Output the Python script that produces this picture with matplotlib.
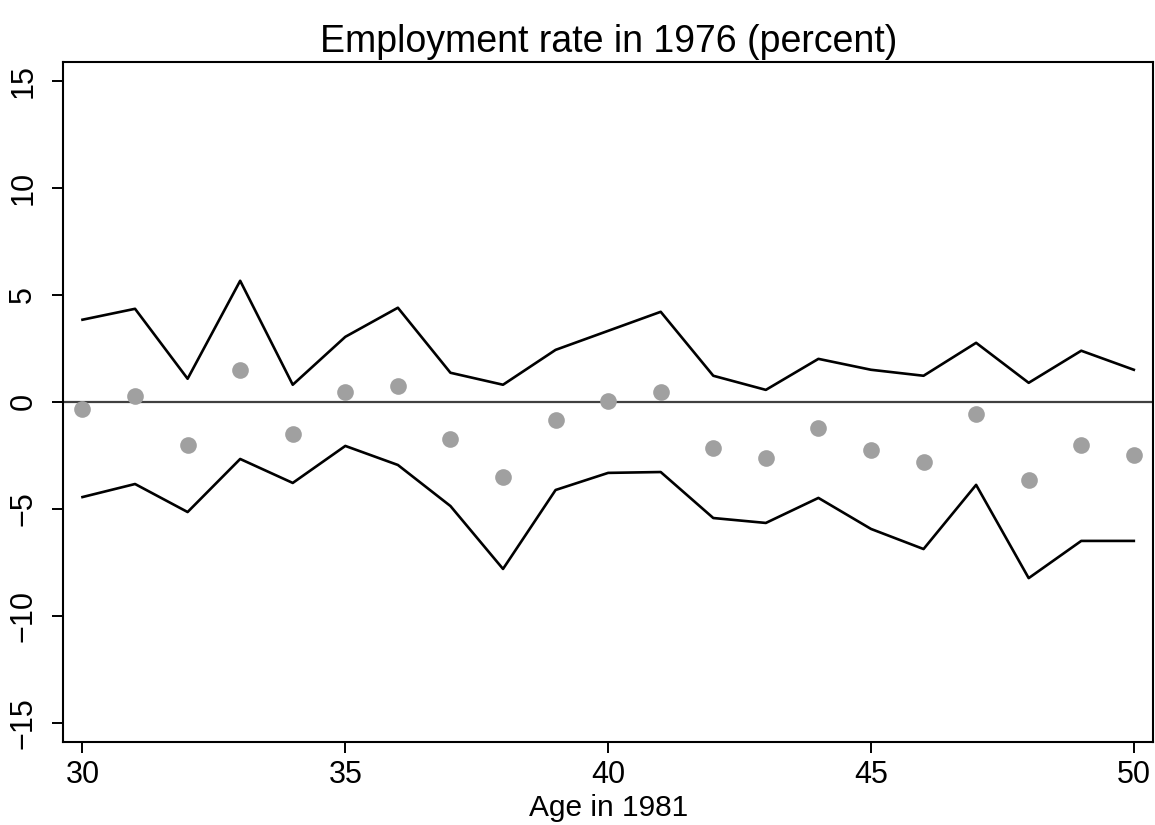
import numpy as np
import matplotlib
matplotlib.use("Agg")
import matplotlib.pyplot as plt

plt.rcParams['font.family'] = ['Liberation Sans', 'DejaVu Sans']

age = list(range(30, 51))
upper = [3.84, 4.35, 1.08, 5.66, 0.80, 3.04, 4.40, 1.36, 0.80, 2.43, 3.32,
         4.21, 1.22, 0.56, 2.01, 1.50, 1.22, 2.76, 0.89, 2.39, 1.50]
lower = [-4.45, -3.84, -5.15, -2.67, -3.79, -2.06, -2.95, -4.87, -7.81, -4.12, -3.32,
         -3.28, -5.43, -5.66, -4.49, -5.94, -6.88, -3.88, -8.24, -6.50, -6.50]
estimate = [-0.33, 0.28, -2.01, 1.50, -1.50, 0.47, 0.75, -1.73, -3.51, -0.84, 0.05,
            0.47, -2.15, -2.62, -1.22, -2.25, -2.81, -0.56, -3.65, -2.01, -2.48]

fig = plt.figure(figsize=(11.55, 8.25), dpi=100)
ax = fig.add_axes([0.0548, 0.1006, 0.9437, 0.8246])

ax.axhline(0, color='#404040', lw=1.6, zorder=1)
ax.plot(age, upper, color='black', lw=1.9, zorder=2)
ax.plot(age, lower, color='black', lw=1.9, zorder=2)
ax.plot(age, estimate, 'o', color='#a0a0a0', markersize=12, markeredgewidth=0, zorder=3)

ax.set_xlim(29.635, 50.37)
ax.set_ylim(-15.9, 15.9)
ax.set_xticks([30, 35, 40, 45, 50])
ax.set_yticks([-15, -10, -5, 0, 5, 10, 15])
ax.set_yticklabels(['\u221215', '\u221210', '\u22125', '0', '5', '10', '15'],
                   rotation=90, va='center')
ax.tick_params(labelsize=22, length=8, width=1.4, color='black')
ax.tick_params(axis='x', pad=5)
ax.tick_params(axis='y', pad=10)
for s in ax.spines.values():
    s.set_linewidth(1.5)

ax.set_title('Employment rate in 1976 (percent)', fontsize=27, pad=7)
ax.set_xlabel('Age in 1981', fontsize=21.5, labelpad=3)

fig.savefig('out.png', dpi=100)
